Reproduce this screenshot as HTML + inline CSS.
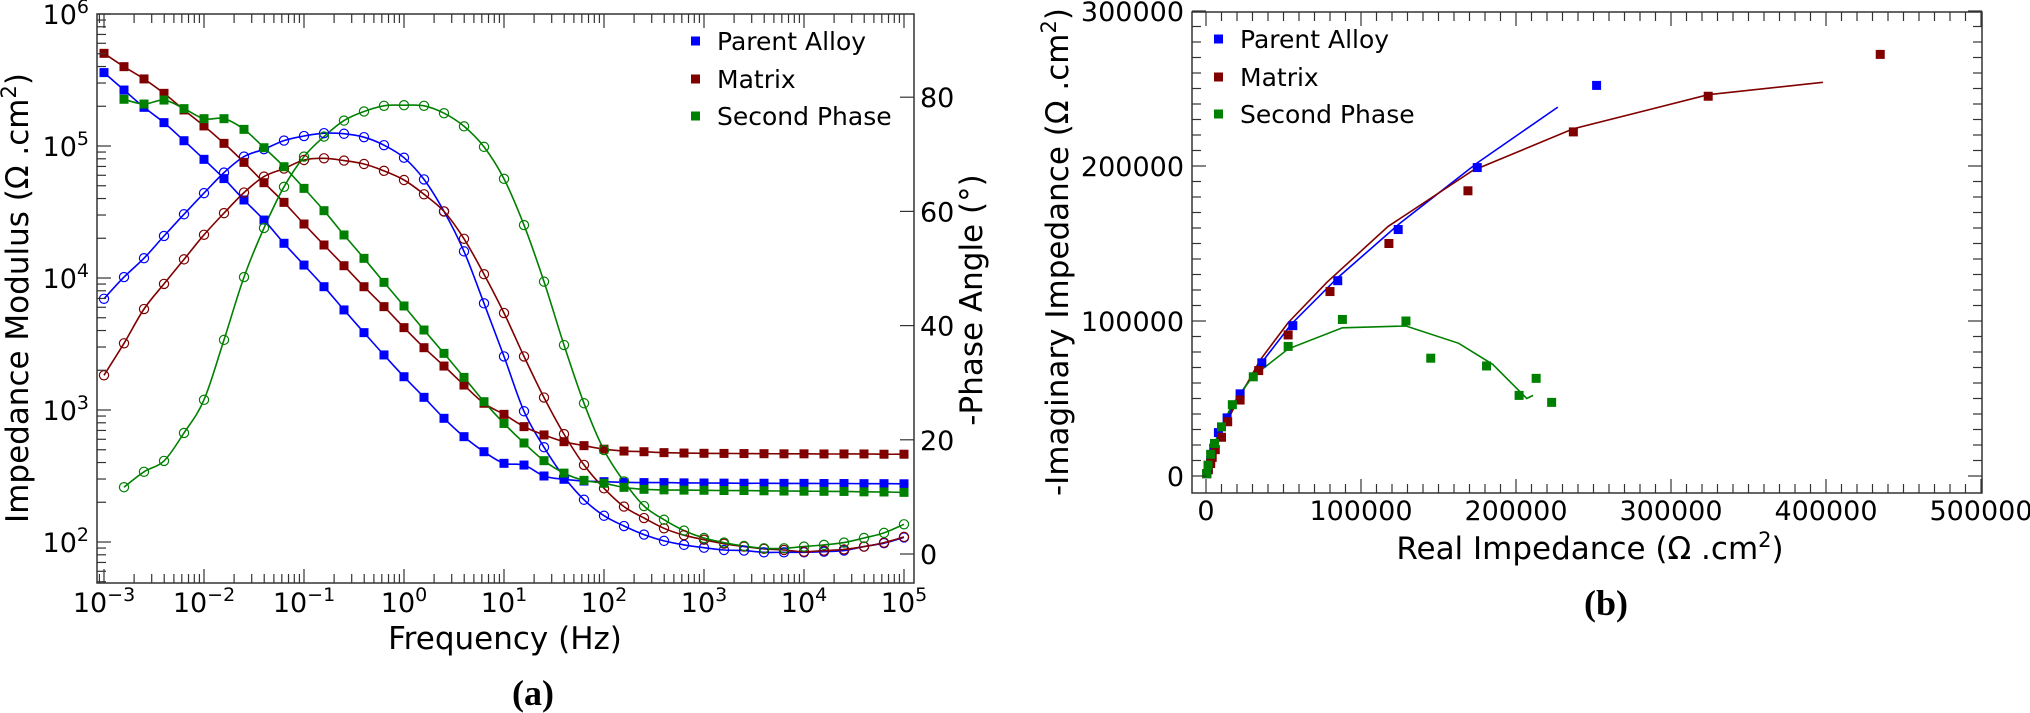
<!DOCTYPE html>
<html><head><meta charset="utf-8"><style>
html,body{margin:0;padding:0;background:#fff;}
svg{display:block;font-family:"DejaVu Sans","Liberation Sans",sans-serif;}
</style></head><body>
<svg id="fig" width="2030" height="713" viewBox="0 0 2030 713" xmlns="http://www.w3.org/2000/svg">
<g id="gA"></g>
<g id="gB"></g>
<text x="533" y="705" font-family="Liberation Serif, serif" font-weight="bold" font-size="36" text-anchor="middle">(a)</text>
<text x="1606" y="615" font-family="Liberation Serif, serif" font-weight="bold" font-size="36" text-anchor="middle">(b)</text>
</svg>
<script>
// ---------- Bode data ----------
const logFreq = [-3,-2.8,-2.6,-2.4,-2.2,-2,-1.8,-1.6,-1.4,-1.2,-1,-0.8,-0.6,-0.4,-0.2,0,0.2,0.4,0.6,0.8,1,1.2,1.4,1.6,1.8,2,2.2,2.4,2.6,2.8,3,3.2,3.4,3.6,3.8,4,4.2,4.4,4.6,4.8,5];
const parentLogZ = [5.556,5.424,5.293,5.177,5.040,4.899,4.753,4.591,4.439,4.263,4.098,3.934,3.758,3.586,3.417,3.252,3.096,2.937,2.798,2.684,2.596,2.583,2.500,2.475,2.462,2.457,2.452,2.45,2.45,2.448,2.447,2.446,2.445,2.445,2.444,2.444,2.443,2.443,2.442,2.442,2.441];
const matrixLogZ = [5.702,5.601,5.508,5.399,5.273,5.152,5.020,4.876,4.722,4.573,4.409,4.25,4.093,3.934,3.783,3.624,3.472,3.333,3.189,3.051,2.967,2.874,2.811,2.760,2.730,2.703,2.689,2.684,2.677,2.674,2.672,2.671,2.670,2.669,2.668,2.668,2.667,2.667,2.667,2.665,2.665];
const secondLogZ = [null,5.354,5.318,5.348,5.283,5.207,5.207,5.126,4.987,4.843,4.679,4.510,4.326,4.149,3.967,3.788,3.606,3.429,3.247,3.063,2.898,2.750,2.616,2.522,2.467,2.445,2.414,2.399,2.395,2.393,2.392,2.39,2.39,2.388,2.386,2.385,2.384,2.383,2.38,2.379,2.376];
const parentPhase = [44.7,48.5,51.8,55.7,59.5,63.2,66.8,69.6,70.9,72.4,73.2,73.7,73.6,73.0,71.6,69.4,65.6,60.0,53.0,43.9,34.6,25.0,18.7,13.5,9.5,6.7,4.9,3.4,2.3,1.6,1.1,0.7,0.6,0.3,0.3,0.3,0.4,0.6,1.3,1.9,2.9];
const matrixPhase = [31.3,36.9,42.9,47.3,51.6,55.9,59.7,63.3,66.1,67.5,69.0,69.3,68.9,68.3,67.1,65.5,63.0,60.0,55.2,49.0,42.2,34.6,27.4,21.0,15.6,11.5,8.3,6.3,4.5,3.3,2.5,1.8,1.3,0.9,0.7,0.4,0.6,0.8,1.3,2.0,3.0];
const secondPhase = [null,11.7,14.4,16.3,21.2,27.0,37.5,48.5,57.1,64.3,69.6,73.1,75.9,77.5,78.5,78.6,78.5,77.2,74.9,71.3,65.7,57.6,47.7,36.6,26.4,18.2,12.7,8.4,6.0,4.1,2.8,2.0,1.4,1.0,1.0,1.3,1.6,2.0,2.8,3.7,5.2];
const modTicks = [2,3,4,5,6];
const phaseTicks = [0,20,40,60,80];
const freqTicks = [-3,-2,-1,0,1,2,3,4,5];
// ---------- Nyquist data ----------
const parentRe = [500,1500,3000,5000,8000,13600,22000,36000,56000,85000,124000,175000,252000];
const parentIm = [1500,5000,10000,18000,28000,37500,53000,73000,97000,126000,159000,199000,252000];
const matrixRe = [500,1500,3000,4000,6000,10000,14000,22000,34000,53000,80000,118000,169000,237000,324000,435000];
const matrixIm = [1500,4000,8000,12000,17000,25000,35000,49000,68000,91000,119000,150000,184000,222000,245000,272000];
const secondRe = [400,1300,3000,5500,10000,17000,30500,53000,88000,129000,145000,181000,202000,213000,223000];
const secondIm = [1500,7000,14000,21000,31700,46000,64000,83600,101000,100000,76000,71000,52000,63000,47500];
const parentFitRe = [0,4000,10000,20000,35000,55000,85000,125000,175000,227000];
const parentFitIm = [0,15000,30000,50000,72000,98000,128000,163000,202000,238000];
const matrixFitRe = [0,4000,10000,20000,35000,53000,78000,117500,172000,237000,324000,398000];
const matrixFitIm = [0,13000,28000,48000,75000,99000,125000,161000,197000,224000,246000,254000];
const secondFitRe = [0,3000,8000,17000,30000,53000,88000,129000,163000,185000,207000,211000];
const secondFitIm = [0,12000,28000,46000,64000,82000,95600,96800,85600,72000,50000,52000];
const nyqTicks = [0,100000,200000,300000,400000,500000];
const nyqYTicks = [0,100000,200000,300000];

const NS = "http://www.w3.org/2000/svg";
const C = {blue:"#0000ff", red:"#800000", green:"#008000"};
const TF = 27, SF = 19, TITLE = 31, LEG = 25;
function mk(tag, attrs, parent){const e=document.createElementNS(NS,tag);for(const k in attrs)e.setAttribute(k,attrs[k]);parent.appendChild(e);return e;}

// ===== Panel A =====
const gA = document.getElementById('gA');
const AL=97, AR=914, AT=14, AB=583;
const xA = lf => 104 + (lf+3)*100;
const yZ = lz => 14 + (6-lz)*132;
const yP = p => 554 - p*5.71;

function smoothPath(pts){
  if(pts.length<2) return "";
  let d="M"+pts[0][0]+","+pts[0][1];
  for(let i=0;i<pts.length-1;i++){
    const p0=pts[Math.max(0,i-1)],p1=pts[i],p2=pts[i+1],p3=pts[Math.min(pts.length-1,i+2)];
    const c1=[p1[0]+(p2[0]-p0[0])/6,p1[1]+(p2[1]-p0[1])/6];
    const c2=[p2[0]-(p3[0]-p1[0])/6,p2[1]-(p3[1]-p1[1])/6];
    d+=" C"+c1[0].toFixed(1)+","+c1[1].toFixed(1)+" "+c2[0].toFixed(1)+","+c2[1].toFixed(1)+" "+p2[0].toFixed(1)+","+p2[1].toFixed(1);
  }
  return d;
}

const clipA = mk('clipPath',{id:'clipA'},gA);
mk('rect',{x:AL,y:AT,width:AR-AL,height:AB-AT},clipA);
const plotA = mk('g',{'clip-path':'url(#clipA)'},gA);



const seriesA = [
  {name:'parent-alloy', c:C.blue, z:parentLogZ, p:parentPhase},
  {name:'matrix', c:C.red, z:matrixLogZ, p:matrixPhase},
  {name:'second-phase', c:C.green, z:secondLogZ, p:secondPhase}
];
seriesA.forEach(s=>{
  const zp=[], pp=[];
  logFreq.forEach((f,i)=>{ if(s.z[i]!=null) zp.push([xA(f),yZ(s.z[i])]); if(s.p[i]!=null) pp.push([xA(f),yP(s.p[i])]); });
  const l1=mk('path',{d:smoothPath(zp),fill:'none',stroke:s.c,'stroke-width':1.6},plotA);
  
  
  const l2=mk('path',{d:smoothPath(pp),fill:'none',stroke:s.c,'stroke-width':1.6},plotA);
  
  
});
seriesA.forEach(s=>{
  logFreq.forEach((f,i)=>{
    if(s.p[i]!=null){
      const c=mk('circle',{cx:xA(f),cy:yP(s.p[i]),r:4.6,fill:'none',stroke:s.c,'stroke-width':1.2},plotA);
      
      
    }
    if(s.z[i]!=null){
      const r=mk('rect',{x:xA(f)-4.5,y:yZ(s.z[i])-4.5,width:9,height:9,fill:s.c},plotA);
      
      
    }
  });
});
const frA=mk('rect',{x:AL,y:AT,width:AR-AL,height:AB-AT,fill:'none',stroke:'#333','stroke-width':1.5},gA);


for(let d=-4; d<=5; d++){
  for(let m=1;m<=9;m++){
    const lf=d+Math.log10(m); const x=xA(lf);
    if(x<AL-0.5||x>AR+0.5) continue;
    const len = m===1?14:9;
    mk('line',{x1:x,y1:AB,x2:x,y2:AB-len,stroke:'#333','stroke-width':1.2},gA);
    mk('line',{x1:x,y1:AT,x2:x,y2:AT+len,stroke:'#333','stroke-width':1.2},gA);
  }
}
freqTicks.forEach(t=>{
  const tx=mk('text',{x:xA(t),y:612,'font-size':TF,'text-anchor':'middle'},gA);
  
  
  tx.innerHTML='10<tspan dy="-11" font-size="'+SF+'">'+(t<0?'\u2212'+(-t):t)+'</tspan>';
});
for(let d=1; d<=6; d++){
  for(let m=1;m<=9;m++){
    const lz=d+Math.log10(m); const y=yZ(lz);
    if(y<AT-0.5||y>AB+0.5) continue;
    const len = m===1?14:9;
    mk('line',{x1:AL,y1:y,x2:AL+len,y2:y,stroke:'#333','stroke-width':1.2},gA);
  }
}
modTicks.forEach(t=>{
  const tx=mk('text',{x:AL-8,y:yZ(t)+10,'font-size':TF,'text-anchor':'end'},gA);
  
  
  tx.innerHTML='10<tspan dy="-11" font-size="'+SF+'">'+t+'</tspan>';
});
phaseTicks.forEach(t=>{
  mk('line',{x1:AR,y1:yP(t),x2:AR-14,y2:yP(t),stroke:'#333','stroke-width':1.2},gA);
  const tx=mk('text',{x:AR+6,y:yP(t)+10,'font-size':TF},gA);
  
  
  tx.textContent=t;
});
let t1=mk('text',{x:28,y:298,'font-size':TITLE,'text-anchor':'middle',transform:'rotate(-90 28 298)'},gA);


t1.innerHTML='Impedance Modulus (\u03A9 .cm<tspan dy="-12" font-size="21">2</tspan><tspan dy="12">)</tspan>';
let t2=mk('text',{x:982,y:300,'font-size':TITLE,'text-anchor':'middle',transform:'rotate(-90 982 300)'},gA);


t2.textContent='-Phase Angle (\u00B0)';
let t3=mk('text',{x:505,y:649,'font-size':TITLE,'text-anchor':'middle'},gA);


t3.textContent='Frequency (Hz)';
const legNames=['Parent Alloy','Matrix','Second Phase'];
const legCols=[C.blue,C.red,C.green];
legNames.forEach((n,i)=>{
  const y=[41,79,116][i];
  const g=mk('g',{},gA);
  
  
  mk('rect',{x:691,y:y-4.5,width:9,height:9,fill:legCols[i]},g);
  const tx=mk('text',{x:717,y:y+9,'font-size':LEG},g);
  tx.textContent=n;
});

// ===== Panel B =====
const gB=document.getElementById('gB');
const BL=1192, BR=1982, BT=12, BB=493;
const xB = v => 1206 + v/100000*155;
const yB = v => 476 - v/100000*155;
const seriesB=[
  {name:'parent-alloy',c:C.blue,re:parentRe,im:parentIm,fr:parentFitRe,fi:parentFitIm},
  {name:'matrix',c:C.red,re:matrixRe,im:matrixIm,fr:matrixFitRe,fi:matrixFitIm},
  {name:'second-phase',c:C.green,re:secondRe,im:secondIm,fr:secondFitRe,fi:secondFitIm}
];
seriesB.forEach(s=>{
  const pts=s.fr.map((v,i)=>xB(v).toFixed(1)+','+yB(s.fi[i]).toFixed(1)).join(' ');
  const pl=mk('polyline',{points:pts,fill:'none',stroke:s.c,'stroke-width':1.6},gB);
  
  
});
seriesB.forEach(s=>{
  s.re.forEach((v,i)=>{
    const r=mk('rect',{x:xB(v)-4.5,y:yB(s.im[i])-4.5,width:9,height:9,fill:s.c},gB);
    
    
  });
});
const frB=mk('rect',{x:BL,y:BT,width:BR-BL,height:BB-BT,fill:'none',stroke:'#333','stroke-width':1.5},gB);


for(let v=0; v<=500000; v+=10000){
  const x=xB(v); const len=(v%100000===0)?14:9;
  mk('line',{x1:x,y1:BB,x2:x,y2:BB-len,stroke:'#333','stroke-width':1.2},gB);
  mk('line',{x1:x,y1:BT,x2:x,y2:BT+len,stroke:'#333','stroke-width':1.2},gB);
}
for(let v=0; v<=300000; v+=10000){
  const y=yB(v); const len=(v%100000===0)?14:9;
  mk('line',{x1:BL,y1:y,x2:BL+len,y2:y,stroke:'#333','stroke-width':1.2},gB);
  mk('line',{x1:BR,y1:y,x2:BR-len,y2:y,stroke:'#333','stroke-width':1.2},gB);
}
nyqTicks.forEach(t=>{
  const tx=mk('text',{x:xB(t),y:520,'font-size':TF,'text-anchor':'middle'},gB);
  
  
  tx.textContent=t;
});
nyqYTicks.forEach(t=>{
  const tx=mk('text',{x:BL-8,y:yB(t)+10,'font-size':TF,'text-anchor':'end'},gB);
  
  
  tx.textContent=t;
});
let t4=mk('text',{x:1590,y:559,'font-size':TITLE,'text-anchor':'middle'},gB);


t4.innerHTML='Real Impedance (\u03A9 .cm<tspan dy="-12" font-size="21">2</tspan><tspan dy="12">)</tspan>';
let t5=mk('text',{x:1068,y:252,'font-size':TITLE,'text-anchor':'middle',transform:'rotate(-90 1068 252)'},gB);


t5.innerHTML='-Imaginary Impedance (\u03A9 .cm<tspan dy="-12" font-size="21">2</tspan><tspan dy="12">)</tspan>';
legNames.forEach((n,i)=>{
  const y=[39,77,114][i];
  const g=mk('g',{},gB);
  
  
  mk('rect',{x:1214,y:y-4.5,width:9,height:9,fill:legCols[i]},g);
  const tx=mk('text',{x:1240,y:y+9,'font-size':LEG},g);
  tx.textContent=n;
});
</script>
</body></html>
